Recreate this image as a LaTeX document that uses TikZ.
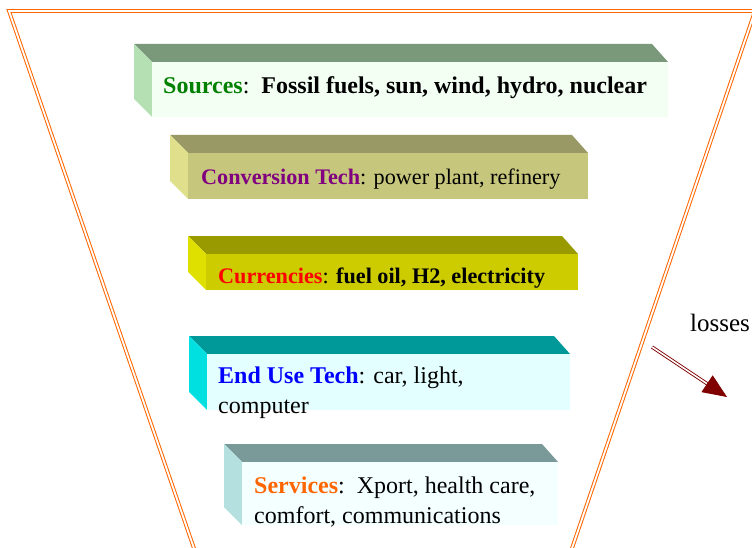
\documentclass[tikz,border=0pt]{standalone}
\usepackage{fontspec}
\setmainfont{Liberation Serif}
\usetikzlibrary{arrows.meta}

\definecolor{funnelorange}{RGB}{255,102,0}
\definecolor{lossred}{RGB}{128,0,0}
\definecolor{srcgreen}{RGB}{0,128,0}
\definecolor{convpurple}{RGB}{128,0,128}
\definecolor{servorange}{RGB}{255,102,0}

\definecolor{srctop}{RGB}{122,153,122}
\definecolor{srcside}{RGB}{180,224,180}
\definecolor{srcfront}{RGB}{244,255,244}
\definecolor{convtop}{RGB}{153,153,102}
\definecolor{convside}{RGB}{224,224,140}
\definecolor{convfront}{RGB}{198,198,124}
\definecolor{curtop}{RGB}{153,153,0}
\definecolor{curside}{RGB}{224,224,0}
\definecolor{curfront}{RGB}{204,204,0}
\definecolor{usetop}{RGB}{0,153,153}
\definecolor{useside}{RGB}{0,224,224}
\definecolor{usefront}{RGB}{228,255,255}
\definecolor{servtop}{RGB}{122,153,153}
\definecolor{servside}{RGB}{180,224,224}
\definecolor{servfront}{RGB}{244,255,255}

\tikzset{
    funnel/.style={draw=funnelorange, line width=1pt, double=white,
        double distance=1.8pt, line join=miter},
    bartext/.style={anchor=base west, inner sep=0pt, align=left,
        font=\fontsize{24}{30}\selectfont},
    smalltext/.style={bartext, font=\fontsize{22.2}{28}\selectfont},
    lossarrow/.style={draw=lossred, line width=0.9pt, double=white,
        double distance=1.6pt, -{Triangle[length=24pt,width=20pt,fill=lossred]}},
}

\begin{document}
\begin{tikzpicture}[x=1pt,y=-1pt]

    \useasboundingbox (0,0) rectangle (752,548);

    % the funnel
    \begin{scope}
        \clip (0,0) rectangle (752,548);
        \draw[funnel] (198,560) -- (9,11) -- (755,11) -- (568,560);
    \end{scope}

    % a bar: front left, front top, front right, front bottom, top, side, front
    \def\slab#1#2#3#4#5#6#7{
        \fill[#5] (#1-18,#2-18) -- (#3-16,#2-18) -- (#3,#2) -- (#1,#2) -- cycle;
        \fill[#6] (#1-18,#2-18) -- (#1,#2) -- (#1,#4) -- (#1-18,#4-18) -- cycle;
        \fill[#7] (#1,#2) rectangle (#3,#4);
    }

    \slab{152}{62}{668}{117}{srctop}{srcside}{srcfront}
    \slab{188}{153}{588}{199}{convtop}{convside}{convfront}
    \slab{206}{254}{578}{290}{curtop}{curside}{curfront}
    \slab{207}{354}{570}{410}{usetop}{useside}{usefront}
    \slab{242}{462}{558}{525}{servtop}{servside}{servfront}

    \node[bartext] (sources) at (163,94)
        {\textbf{\textcolor{srcgreen}{Sources}}:\ \ \textbf{Fossil fuels, sun, wind, hydro, nuclear}};
    \node[smalltext] (conversion) at (201,185)
        {\textbf{\textcolor{convpurple}{Conversion Tech}}: power plant, refinery};
    \node[smalltext] (currencies) at (218,283)
        {\textbf{\textcolor{red}{Currencies}}: \textbf{fuel oil, H2, electricity}};
    \node[bartext] (enduse) at (218,413)
        {\textbf{\textcolor{blue}{End Use Tech}}: car, light,\\computer};
    \node[bartext] (services) at (254,523)
        {\textbf{\textcolor{servorange}{Services}}:\ \ Xport, health care,\\comfort, communications};

    % losses
    \node[bartext, font=\fontsize{25}{30}\selectfont] (losses) at (690,331) {losses};
    \coordinate (lossfrom) at (652,347);
    \coordinate (lossto) at (727,397);
    \draw[lossarrow] (lossfrom) -- (lossto);

\end{tikzpicture}
\end{document}
